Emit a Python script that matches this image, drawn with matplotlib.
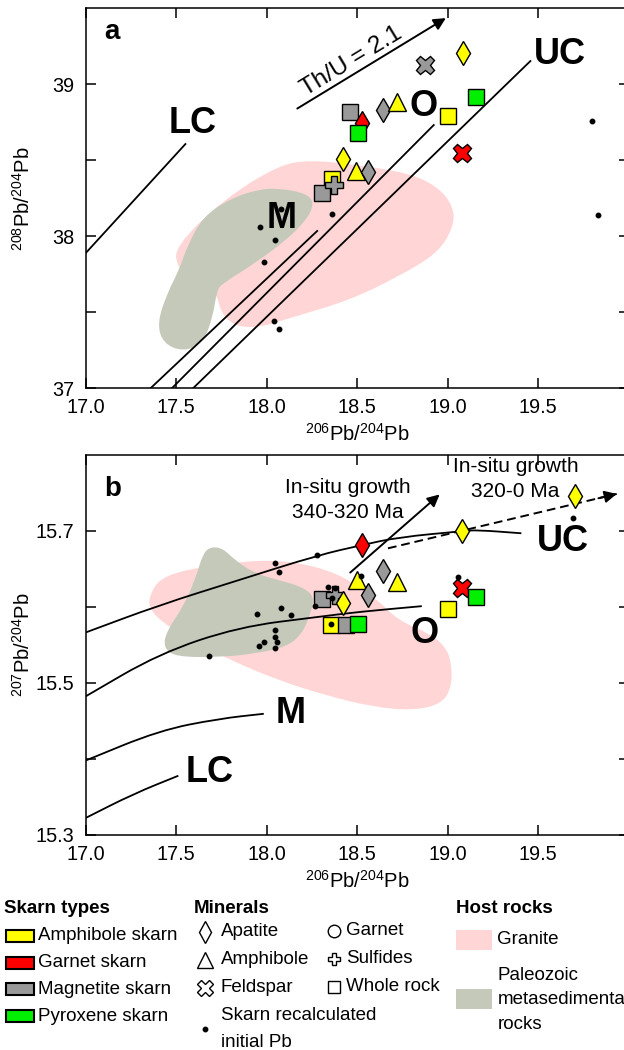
import numpy as np
import matplotlib
matplotlib.use('Agg')
import matplotlib.pyplot as plt
from matplotlib.path import Path
from matplotlib.patches import PathPatch, Rectangle

plt.rcParams['font.family'] = 'Liberation Sans'
plt.rcParams['mathtext.default'] = 'regular'

# ---- colores / simbolos
skarn_colors = {'Amphibole skarn': '#FFFF00', 'Garnet skarn': '#FF0000',
                'Magnetite skarn': '#999999', 'Pyroxene skarn': '#00F000'}
mineral_markers = {'Apatite': 'd', 'Amphibole': '^', 'Feldspar': 'X',
                   'Garnet': 'o', 'Sulfides': 'P', 'Whole rock': 's'}
mineral_sizes = {'Apatite': 12, 'Amphibole': 12.5, 'Feldspar': 13,
                 'Garnet': 11, 'Sulfides': 13, 'Whole rock': 11.5}
granite_color = '#FFD5D5'
paleozoic_color = '#C4C9BA'

# ---- panel a: 208Pb/204Pb vs 206Pb/204Pb
a_x = [19.085, 18.876, 18.645, 18.72, 18.462, 18.528, 18.506, 19.001, 19.155,
       19.078, 18.423, 18.495, 18.561, 18.363, 18.304, 18.374]
a_y = [39.204, 39.127, 38.83, 38.886, 38.82, 38.743, 38.678, 38.79, 38.914,
       38.55, 38.507, 38.432, 38.425, 38.38, 38.283, 38.337]
a_skarn = ['Amphibole skarn', 'Magnetite skarn', 'Magnetite skarn', 'Amphibole skarn',
           'Magnetite skarn', 'Garnet skarn', 'Pyroxene skarn', 'Amphibole skarn',
           'Pyroxene skarn', 'Garnet skarn', 'Amphibole skarn', 'Amphibole skarn',
           'Magnetite skarn', 'Amphibole skarn', 'Magnetite skarn', 'Magnetite skarn']
a_mineral = ['Apatite', 'Feldspar', 'Apatite', 'Amphibole', 'Whole rock', 'Apatite',
             'Whole rock', 'Whole rock', 'Whole rock', 'Feldspar', 'Apatite',
             'Amphibole', 'Apatite', 'Whole rock', 'Whole rock', 'Sulfides']

a_dots_x = [19.799, 19.832, 18.363, 18.08, 17.963, 18.045, 17.985, 18.04, 18.067]
a_dots_y = [38.76, 38.14, 38.145, 38.18, 38.063, 37.976, 37.83, 37.443, 37.39]

# curvas de evolucion (rectas en este diagrama)
a_lc_x, a_lc_y = [17.0, 17.552], [37.888, 38.607]
a_m_x, a_m_y = [17.359, 18.28], [37.0, 38.035]
a_o_x, a_o_y = [17.477, 18.924], [37.0, 38.732]
a_uc_x, a_uc_y = [17.594, 19.458], [37.0, 39.153]
a_thu_x, a_thu_y = [18.157, 19.004], [38.831, 39.445]

a_granite_x = [17.495, 17.759, 18.067, 18.243, 18.506, 18.792, 18.946, 19.034, 19.034,
               18.946, 18.726, 18.462, 18.155, 17.913, 17.759, 17.715, 17.583, 17.506]
a_granite_y = [37.932, 38.239, 38.469, 38.502, 38.469, 38.414, 38.326, 38.195, 38.063,
               37.888, 37.734, 37.581, 37.471, 37.384, 37.449, 37.668, 37.713, 37.8]
a_paleo_x = [18.067, 18.22, 18.265, 18.22, 18.11, 17.935, 17.759, 17.726, 17.704, 17.649,
             17.539, 17.429, 17.396, 17.451, 17.517, 17.561, 17.649, 17.803, 17.957]
a_paleo_y = [38.316, 38.283, 38.217, 38.107, 37.976, 37.822, 37.691, 37.647, 37.471, 37.296,
             37.241, 37.296, 37.428, 37.625, 37.778, 37.932, 38.129, 38.25, 38.309]

# ---- panel b: 207Pb/204Pb vs 206Pb/204Pb
b_x = [19.082, 19.704, 18.528, 18.643, 18.722, 18.5, 18.561, 18.308, 18.378, 18.423,
       18.359, 18.44, 18.506, 19.005, 19.078, 19.155]
b_y = [15.70, 15.746, 15.6815, 15.647, 15.633, 15.636, 15.6156, 15.611, 15.616, 15.605,
       15.576, 15.576, 15.577, 15.597, 15.6244, 15.6134]
b_skarn = ['Amphibole skarn', 'Amphibole skarn', 'Garnet skarn', 'Magnetite skarn',
           'Amphibole skarn', 'Amphibole skarn', 'Magnetite skarn', 'Magnetite skarn',
           'Magnetite skarn', 'Amphibole skarn', 'Amphibole skarn', 'Magnetite skarn',
           'Pyroxene skarn', 'Amphibole skarn', 'Garnet skarn', 'Pyroxene skarn']
b_mineral = ['Apatite', 'Apatite', 'Apatite', 'Apatite', 'Amphibole', 'Amphibole',
             'Apatite', 'Whole rock', 'Sulfides', 'Apatite', 'Whole rock', 'Whole rock',
             'Whole rock', 'Whole rock', 'Feldspar', 'Whole rock']

b_dots_x = [18.28, 18.045, 18.067, 18.338, 18.36, 18.378, 18.522, 19.06, 18.355, 18.269,
            18.08, 17.946, 18.135, 18.045, 18.045, 17.985, 18.058, 17.957, 18.045, 17.682,
            19.693]
b_dots_y = [15.669, 15.658, 15.6455, 15.626, 15.6125, 15.6244, 15.641, 15.64, 15.5773,
            15.6015, 15.599, 15.5905, 15.589, 15.5694, 15.56, 15.554, 15.554, 15.5483,
            15.546, 15.535, 15.7175]

b_uc_x = [17.0, 17.407, 17.847, 18.286, 18.528, 18.726, 19.089, 19.166, 19.408]
b_uc_y = [15.5664, 15.6024, 15.6354, 15.6683, 15.6815, 15.6917, 15.70, 15.7013, 15.697]
b_o_x = [17.0, 17.407, 17.847, 18.286, 18.506, 18.858]
b_o_y = [15.4823, 15.5387, 15.5738, 15.587, 15.5935, 15.6011]
b_m_x = [17.0, 17.407, 17.737, 17.985]
b_m_y = [15.3979, 15.4375, 15.453, 15.4595]
b_lc_x = [17.0, 17.264, 17.513]
b_lc_y = [15.3223, 15.354, 15.378]
b_growth1_x, b_growth1_y = [18.451, 18.968], [15.6429, 15.7505]
b_growth2_x, b_growth2_y = [18.671, 19.935], [15.6772, 15.7488]

b_granite_x = [17.352, 17.407, 17.583, 17.847, 18.067, 18.286, 18.462, 18.616, 18.726,
               18.902, 18.99, 19.023, 19.023, 18.968, 18.814, 18.594, 18.33, 18.067,
               17.803, 17.583, 17.407, 17.352]
b_granite_y = [15.6134, 15.6376, 15.6508, 15.6595, 15.6617, 15.6529, 15.6354, 15.609,
               15.5826, 15.565, 15.5474, 15.5255, 15.4946, 15.4727, 15.4639, 15.4682,
               15.4836, 15.5034, 15.5298, 15.5562, 15.5826, 15.6001]
b_paleo_x = [17.693, 17.759, 17.825, 17.935, 18.067, 18.198, 18.265, 18.243, 18.198,
             18.11, 17.935, 17.759, 17.495, 17.429, 17.451, 17.539, 17.605, 17.649]
b_paleo_y = [15.6793, 15.6772, 15.6617, 15.6442, 15.6354, 15.6265, 15.6134, 15.5914,
             15.565, 15.5474, 15.5387, 15.5342, 15.5342, 15.5474, 15.5694, 15.6001,
             15.6354, 15.6706]

x_ticks = [17.0, 17.5, 18.0, 18.5, 19.0, 19.5]


def blob(ax, xs, ys, color):
    # contorno suave (bezier cuadratica por los puntos medios)
    pts = np.column_stack([xs, ys])
    mids = (pts + np.roll(pts, -1, axis=0)) / 2
    verts = [mids[-1]]
    codes = [Path.MOVETO]
    for i in range(len(pts)):
        verts += [pts[i], mids[i]]
        codes += [Path.CURVE3, Path.CURVE3]
    verts.append(mids[-1])
    codes.append(Path.CLOSEPOLY)
    ax.add_patch(PathPatch(Path(verts, codes), facecolor=color, edgecolor='none', zorder=0))


def smooth_line(ax, xs, ys):
    # misma idea para curvas abiertas
    pts = np.column_stack([xs, ys])
    verts = [pts[0], (pts[0] + pts[1]) / 2]
    codes = [Path.MOVETO, Path.LINETO]
    for i in range(1, len(pts) - 1):
        verts += [pts[i], (pts[i] + pts[i + 1]) / 2]
        codes += [Path.CURVE3, Path.CURVE3]
    verts.append(pts[-1])
    codes.append(Path.LINETO)
    ax.add_patch(PathPatch(Path(verts, codes), facecolor='none', edgecolor='black',
                           lw=1.3, zorder=2))


def samples(ax, xs, ys, skarns, minerals):
    for i in range(len(xs)):
        m = minerals[i]
        ax.plot(xs[i], ys[i], ls='none', marker=mineral_markers[m], ms=mineral_sizes[m],
                mfc=skarn_colors[skarns[i]], mec='black', mew=1.0, zorder=5 + i * 0.01)


def style_axes(ax, yticks, ylabels):
    ax.set_xlim(17.0, 20.0)
    ax.set_xticks(x_ticks)
    ax.set_xticklabels(['%.1f' % v for v in x_ticks])
    ax.set_yticks(yticks)
    ax.set_yticklabels(ylabels)
    ax.tick_params(direction='in', top=True, right=True, length=7, width=1.1,
                   labelsize=14.3, pad=7)
    ax.tick_params(axis='y', pad=8)
    for s in ax.spines.values():
        s.set_linewidth(1.1)
    ax.set_xlabel(r'$^{206}$Pb/$^{204}$Pb', fontsize=14.5)
    ax.xaxis.set_label_coords(0.5, -0.092)


fig = plt.figure(figsize=(6.24, 10.5), dpi=100)
ax_a = fig.add_axes([85.5 / 624, 1 - 388.3 / 1050, 543 / 624, 380 / 1050])
ax_b = fig.add_axes([85.5 / 624, 1 - 835 / 1050, 543 / 624, 380 / 1050])

# ---------------- panel a
blob(ax_a, a_granite_x, a_granite_y, granite_color)
blob(ax_a, a_paleo_x, a_paleo_y, paleozoic_color)
for lx, ly in [(a_lc_x, a_lc_y), (a_m_x, a_m_y), (a_o_x, a_o_y), (a_uc_x, a_uc_y)]:
    ax_a.plot(lx, ly, color='black', lw=1.3, zorder=2)
ax_a.annotate('', xy=(a_thu_x[1], a_thu_y[1]), xytext=(a_thu_x[0], a_thu_y[0]),
              arrowprops=dict(arrowstyle='-|>', color='black', lw=1.4, mutation_scale=18),
              zorder=3)
ax_a.text(18.489, 39.116, 'Th/U = 2.1', rotation=31.3, rotation_mode='anchor',
          ha='center', va='baseline', fontsize=17.5)
for lab, lx, ly in [('LC', 17.594, 38.743), ('UC', 19.621, 39.198),
                    ('O', 18.869, 38.853), ('M', 18.082, 38.118)]:
    ax_a.text(lx, ly, lab, ha='center', va='center', fontsize=26, fontweight='bold', zorder=4)
samples(ax_a, a_x, a_y, a_skarn, a_mineral)
ax_a.plot(a_dots_x, a_dots_y, 'o', color='black', ms=3.2, zorder=8)
ax_a.text(17.104, 39.296, 'a', ha='left', va='baseline', fontsize=20, fontweight='bold')
ax_a.set_ylim(37.0, 39.5)
style_axes(ax_a, [37, 37.5, 38, 38.5, 39], ['37', '', '38', '', '39'])
ax_a.set_ylabel(r'$^{208}$Pb/$^{204}$Pb', fontsize=14.5)
ax_a.yaxis.set_label_coords(-0.095, 0.5)

# ---------------- panel b
blob(ax_b, b_granite_x, b_granite_y, granite_color)
blob(ax_b, b_paleo_x, b_paleo_y, paleozoic_color)
for lx, ly in [(b_uc_x, b_uc_y), (b_o_x, b_o_y), (b_m_x, b_m_y), (b_lc_x, b_lc_y)]:
    smooth_line(ax_b, lx, ly)
ax_b.annotate('', xy=(b_growth1_x[1], b_growth1_y[1]), xytext=(b_growth1_x[0], b_growth1_y[0]),
              arrowprops=dict(arrowstyle='-|>', color='black', lw=1.4, mutation_scale=18),
              zorder=3)
ax_b.plot(b_growth2_x, b_growth2_y, color='black', lw=1.4, ls=(0, (4.5, 2.5)), zorder=3)
tail_x = b_growth2_x[1] - 0.08 * (b_growth2_x[1] - b_growth2_x[0])
tail_y = b_growth2_y[1] - 0.08 * (b_growth2_y[1] - b_growth2_y[0])
ax_b.annotate('', xy=(b_growth2_x[1], b_growth2_y[1]), xytext=(tail_x, tail_y),
              arrowprops=dict(arrowstyle='-|>', color='black', lw=1.4, mutation_scale=18,
                              shrinkA=0, shrinkB=0), zorder=3)
ax_b.text(18.451, 15.741, 'In-situ growth\n340-320 Ma', ha='center', va='center',
          fontsize=15, linespacing=1.4)
ax_b.text(19.375, 15.769, 'In-situ growth\n320-0 Ma', ha='center', va='center',
          fontsize=15, linespacing=1.4)
for lab, lx, ly in [('UC', 19.639, 15.6859), ('O', 18.876, 15.565),
                    ('M', 18.133, 15.4595), ('LC', 17.688, 15.3825)]:
    ax_b.text(lx, ly, lab, ha='center', va='center', fontsize=26, fontweight='bold', zorder=4)
samples(ax_b, b_x, b_y, b_skarn, b_mineral)
ax_b.plot(b_dots_x, b_dots_y, 'o', color='black', ms=3.2, zorder=8)
ax_b.text(17.104, 15.746, 'b', ha='left', va='baseline', fontsize=20, fontweight='bold')
ax_b.set_ylim(15.3, 15.8)
style_axes(ax_b, [15.3, 15.4, 15.5, 15.6, 15.7], ['15.3', '', '15.5', '', '15.7'])
ax_b.set_ylabel(r'$^{207}$Pb/$^{204}$Pb', fontsize=14.5)
ax_b.yaxis.set_label_coords(-0.095, 0.5)

# ---------------- leyenda (en pixeles de la figura)
lax = fig.add_axes([0, 0, 1, 1])
lax.set_xlim(0, 624)
lax.set_ylim(1050, 0)
lax.axis('off')
fs = 13.5

lax.text(4, 908.3, 'Skarn types', fontsize=fs, fontweight='bold', va='center')
for i, name in enumerate(['Amphibole skarn', 'Garnet skarn', 'Magnetite skarn', 'Pyroxene skarn']):
    y = 935.7 + i * 26.8
    lax.add_patch(Rectangle((6, y - 6), 28, 12, facecolor=skarn_colors[name],
                            edgecolor='black', lw=1.5))
    lax.text(38, y, name, fontsize=fs, va='center')

lax.text(194.2, 908.3, 'Minerals', fontsize=fs, fontweight='bold', va='center')
col1 = ['Apatite', 'Amphibole', 'Feldspar']
col1_ms = [11, 12, 11]
for i, name in enumerate(col1):
    y = 931.5 + i * 28
    lax.plot(205, y, marker=mineral_markers[name], ms=col1_ms[i], mfc='white',
             mec='black', mew=1.0)
    lax.text(221, y, name, fontsize=fs, va='center')
lax.plot(205, 1028.5, 'o', color='black', ms=3.2)
lax.text(221, 1029, 'Skarn recalculated\ninitial Pb', fontsize=fs, va='center', linespacing=1.72)
col2 = ['Garnet', 'Sulfides', 'Whole rock']
for i, name in enumerate(col2):
    y = 930.7 + i * 28
    lax.plot(334, y, marker=mineral_markers[name], ms=9, mfc='white', mec='black', mew=1.0)
    lax.text(346, y, name, fontsize=fs, va='center')

lax.text(455.6, 908.3, 'Host rocks', fontsize=fs, fontweight='bold', va='center')
lax.add_patch(Rectangle((455.6, 930), 36.4, 20, facecolor=granite_color, edgecolor='none'))
lax.text(497.4, 940, 'Granite', fontsize=fs, va='center')
lax.add_patch(Rectangle((455.6, 989), 36.4, 20, facecolor=paleozoic_color, edgecolor='none'))
lax.text(497.4, 1000, 'Paleozoic\nmetasedimentary\nrocks', fontsize=fs, va='center',
         linespacing=1.55)

fig.savefig('out.png', dpi=100)
